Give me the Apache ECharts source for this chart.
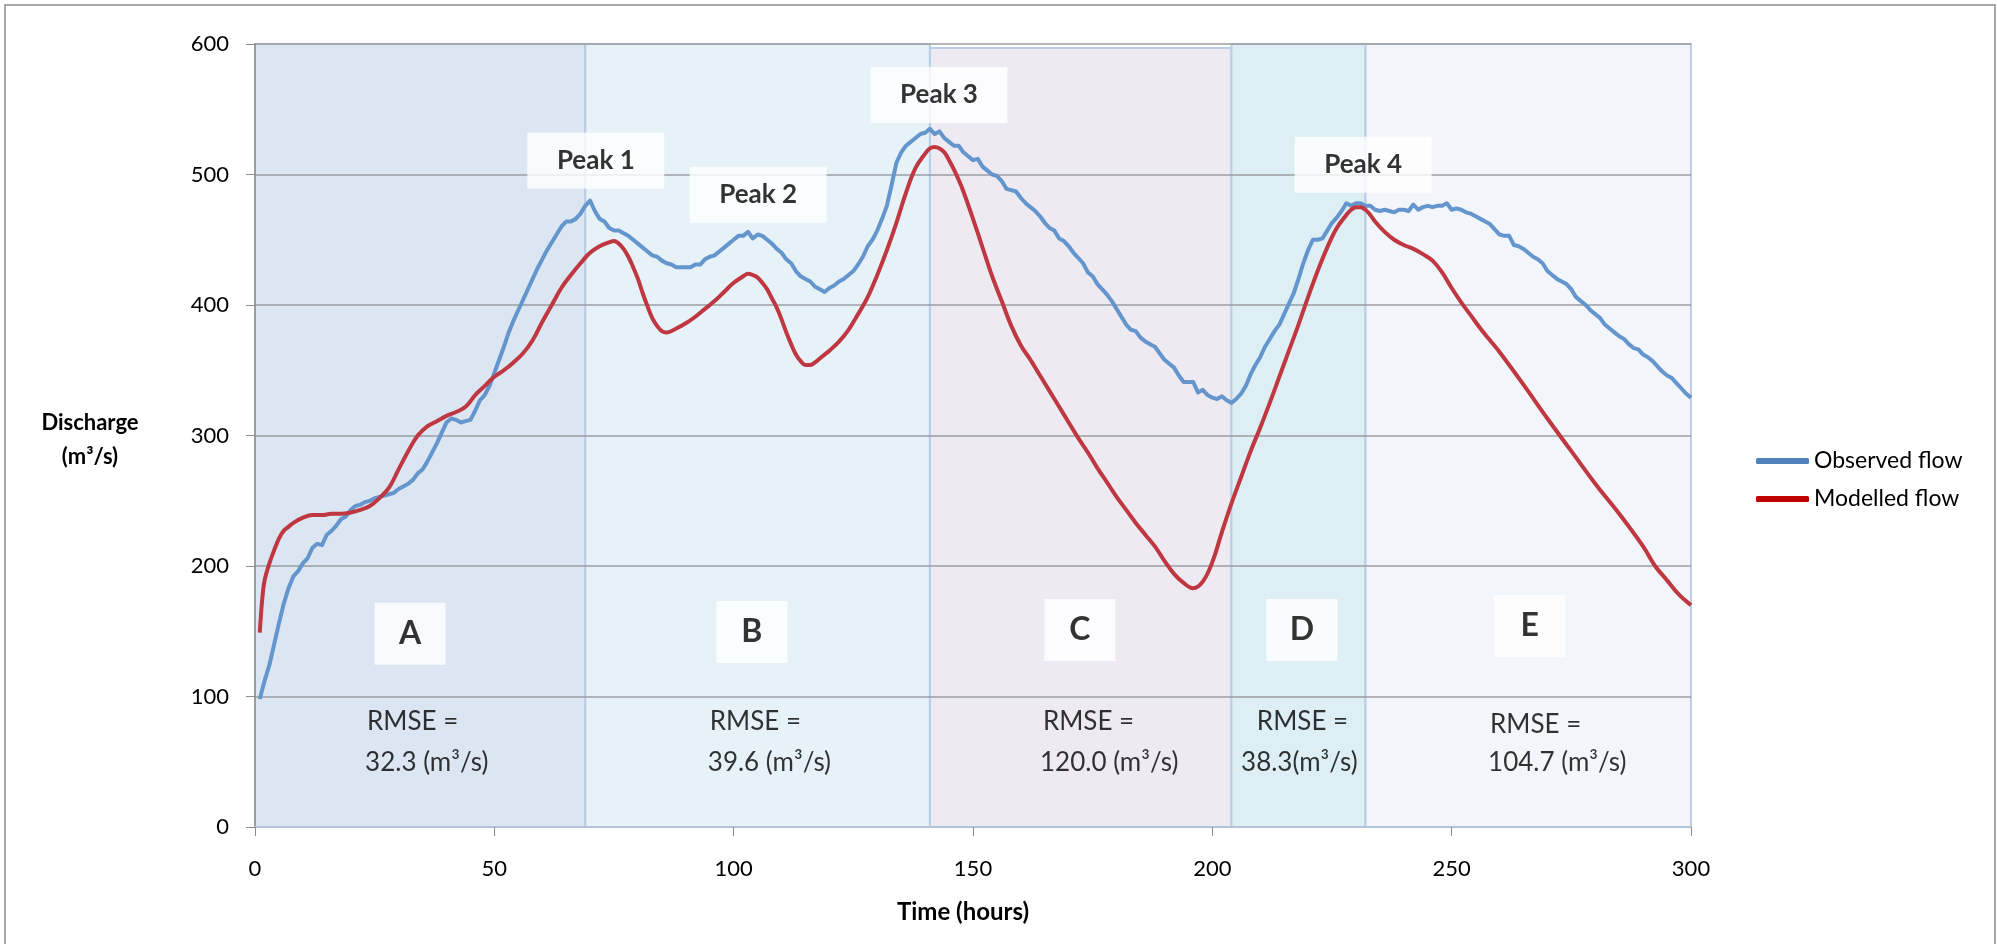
<!DOCTYPE html>
<html><head><meta charset="utf-8">
<script src="https://cdn.jsdelivr.net/npm/echarts@6/dist/echarts.min.js"></script>
<style>html,body{margin:0;padding:0;background:#fff}#c{width:1997px;height:944px}</style>
</head><body><div id="c"></div>
<script>
const FONT = 'Lato';

// Observed flow, hourly values starting at hour 1
const obsFlow = [
  98,112,124,140,156,171,183,192,196,202,
  206,214,217,216,224,227,231,236,238,243,
  246,247,249,250,252,253,254,255,256,259,
  261,263,266,271,274,280,287,294,302,310,
  313,312,310,311,312,319,327,331,338,348,
  358,368,379,388,396,404,412,420,428,435,
  442,448,454,460,464,464,466,470,476,480,
  472,466,464,459,457,457,455,453,450,447,
  444,441,438,437,434,432,431,429,429,429,
  429,431,431,435,437,438,441,444,447,450,
  453,453,456,451,454,453,450,447,443,440,
  435,432,426,422,420,418,414,412,410,413,
  415,418,420,423,426,431,437,445,450,457,
  466,476,492,509,517,522,525,528,531,532,
  535,531,533,528,525,522,522,517,514,511,
  512,506,503,500,499,495,489,488,487,482,
  478,475,472,468,463,459,457,451,449,445,
  440,436,432,425,422,416,412,408,403,397,
  391,385,381,380,375,372,370,368,363,358,
  355,352,346,341,341,341,333,335,331,329,
  328,330,327,325,328,332,338,347,354,360,
  368,374,380,385,393,401,409,420,432,442,
  450,450,451,457,463,467,472,478,476,478,
  478,476,476,473,472,473,472,471,473,473,
  472,477,473,475,476,475,476,476,478,473,
  474,473,471,470,468,466,464,462,458,454,
  453,453,446,445,443,440,437,435,432,426,
  423,420,418,416,412,406,403,400,396,393,
  390,385,382,379,376,374,370,367,366,362,
  360,357,353,349,346,344,340,336,332,329
];

// Modelled flow as [hour, discharge]
const modelledFlow = [
  [1,149],[1.5,174],[2,189],[3,202],[4,212],[5,221],[6,227],[7,230],[8,233],[10,237],
  [12,239],[14,239],[16,240],[18,240],[20,241],[22,243],[24,246],[26,252],[28,260],[30,274],
  [32,288],[34,300],[36,307],[38,311],[40,315],[42,318],[44,322],[46,331],[48,338],[50,345],
  [52,350],[54,356],[56,363],[58,373],[60,387],[62,400],[64,413],[66,423],[68,432],[70,440],
  [72,445],[74,448],[75,449],[76,447],[77,443],[78,437],[79,429],[80,420],[81,409],[82,399],
  [83,390],[84,384],[85,380],[86,379],[88,382],[90,386],[92,391],[94,397],[96,403],[98,410],
  [100,417],[102,422],[103,424],[104,423],[105,421],[106,417],[107,412],[108,405],[109,398],[110,389],
  [111,379],[112,370],[113,362],[114,357],[115,354],[116,354],[117,356],[118,359],[119,362],[120,365],
  [122,372],[124,381],[126,393],[128,406],[130,423],[132,442],[134,463],[136,486],[138,505],[140,516],
  [141,520],[142,521],[143,520],[144,517],[145,511],[146,504],[147,496],[148,487],[150,466],[152,444],
  [154,422],[156,403],[158,384],[160,369],[162,358],[164,346],[166,334],[168,322],[170,310],[172,298],
  [174,287],[176,275],[178,264],[180,253],[182,243],[184,233],[186,224],[188,215],[190,204],[192,194],
  [194,187],[196,183],[198,188],[200,203],[202,226],[204,248],[206,268],[208,288],[210,306],[212,325],
  [214,345],[216,365],[218,385],[220,406],[222,426],[224,444],[226,459],[228,469],[229,473],[230,475],
  [231,475],[232,473],[233,469],[234,464],[236,456],[238,450],[240,446],[242,443],[244,439],[246,434],
  [248,425],[250,413],[252,402],[254,392],[256,382],[258,373],[260,364],[265,339],[270,313],[275,288],
  [280,263],[285,240],[290,215],[292.5,200],[295,189],[297.5,178],[300,170]
];

// Periods A–E
const regionNames = ['A','B','C','D','E'];
const regionStart = [0,69,141,204,232];
const regionEnd = [69,141,204,232,300];
const regionTop = [600,600,597,600,600];
const regionColors = ['#dce6f2','#e7f2f8','#eeeaf2','#ddeff4','#f2f6fa'];
const rmseText = ['32.3 (m³/s)','39.6 (m³/s)','120.0 (m³/s)','38.3(m³/s)','104.7 (m³/s)'];
const peakNames = ['Peak 1','Peak 2','Peak 3','Peak 4'];

// annotation anchors (data coordinates)
const peakPos = [[71.2,510.5],[105.1,484.5],[142.9,561],[231.5,507.5]];
const letterPos = [[32.4,148],[103.8,149.5],[172.3,151],[218.7,151],[266.3,154]];
const rmseLine1Pos = [[23.4,80.5],[95,80.5],[164.6,80.5],[209.3,80.5],[258,78.5]];
const rmseLine2Pos = [[23,49],[94.6,49],[164,49],[206,49],[257.6,49]];

const chart = echarts.init(document.getElementById('c'), null, {renderer:'canvas'});

const markAreaData = regionNames.map((n,i)=>[
  {xAxis: regionStart[i], yAxis: 0, itemStyle:{color: regionColors[i], opacity:1, borderColor:'#b9cde4', borderWidth:2}},
  {xAxis: regionEnd[i], yAxis: regionTop[i]}
]);

chart.setOption({
  animation: false,
  backgroundColor: '#fff',
  grid: {left:255, right:306, top:44, bottom:117, containLabel:false},
  xAxis: {
    type:'value', min:0, max:300, interval:50, z:2,
    axisLine:{show:true, lineStyle:{color:'#b4c4d8', width:2}},
    axisTick:{show:true, length:9, lineStyle:{color:'#8c8c8c', width:1}},
    axisLabel:{show:true, margin:31, fontSize:22, fontFamily:FONT, color:'#000'},
    splitLine:{show:false}
  },
  yAxis: {
    type:'value', min:0, max:600, interval:100, z:2,
    axisLine:{show:true, lineStyle:{color:'#8c8c8c', width:1.5}},
    axisTick:{show:true, length:9, lineStyle:{color:'#8c8c8c', width:1}},
    axisLabel:{show:true, margin:26, fontSize:22, fontFamily:FONT, color:'#000'},
    splitLine:{show:true, lineStyle:{color:'#9a9ea2', width:1.5}}
  },
  legend: {
    orient:'vertical', left:1751, top:444, itemWidth:53, itemHeight:6, itemGap:14,
    icon:'roundRect', selectedMode:false,
    textStyle:{fontFamily:FONT, fontSize:23, color:'#000', lineHeight:24},
    data:[{name:'Observed flow', itemStyle:{color:'#4f81bd'}},{name:'Modelled flow', itemStyle:{color:'#c00000'}}]
  },
  graphic: [
    {type:'rect', silent:true, shape:{x:5,y:5,width:1990,height:980}, style:{fill:'none', stroke:'#8c8c8c', lineWidth:1.5}},
    {type:'text', silent:true, x:90, y:440, style:{text:'Discharge\n(m³/s)', fontFamily:FONT, fontSize:22, fontWeight:'bold', fill:'#000', align:'center', verticalAlign:'middle', lineHeight:34}},
    {type:'text', silent:true, x:963, y:912, style:{text:'Time (hours)', fontFamily:FONT, fontSize:24, fontWeight:'bold', fill:'#000', align:'center', verticalAlign:'middle'}}
  ],
  series: [
    {name:'periods', type:'line', data:[], z:1, silent:true, markArea:{silent:true, data:markAreaData}},
    {name:'Observed flow', type:'line', z:3, silent:true, symbol:'none', showSymbol:false,
      data: obsFlow.map((v,i)=>[i+1, v]),
      lineStyle:{color:'#6496cd', width:4, join:'round'}, itemStyle:{color:'#6496cd'}},
    {name:'Modelled flow', type:'line', z:4, silent:true, symbol:'none', showSymbol:false, smooth:0.4,
      data: modelledFlow,
      lineStyle:{color:'#be3741', width:4}, itemStyle:{color:'#be3741'}},
    {name:'peakLabels', type:'scatter', z:5, silent:true, symbol:'rect', symbolSize:[137,56],
      itemStyle:{color:'#fff'},
      data: peakNames.map((n,i)=>({name:n, value:peakPos[i]})),
      label:{show:true, position:'inside', formatter:'{b}', fontSize:26, fontWeight:'bold', fontFamily:FONT, color:'#000'}},
    {name:'periodLabels', type:'scatter', z:5, silent:true, symbol:'rect', symbolSize:[71,62],
      itemStyle:{color:'#fff'},
      data: regionNames.map((n,i)=>({name:n, value:letterPos[i]})),
      label:{show:true, position:'inside', formatter:'{b}', fontSize:32, fontWeight:'bold', fontFamily:FONT, color:'#000'}},
    {name:'rmse1', type:'scatter', z:5, silent:true, symbolSize:0,
      data: regionNames.map((n,i)=>({name:'RMSE =', value:rmseLine1Pos[i]})),
      label:{show:true, position:'right', distance:0, formatter:'{b}', fontSize:26, fontFamily:FONT, color:'#000'}},
    {name:'rmse2', type:'scatter', z:5, silent:true, symbolSize:0,
      data: rmseText.map((t,i)=>({name:t, value:rmseLine2Pos[i]})),
      label:{show:true, position:'right', distance:0, formatter:'{b}', fontSize:26, fontFamily:FONT, color:'#000'}}
  ]
});
</script></body></html>
